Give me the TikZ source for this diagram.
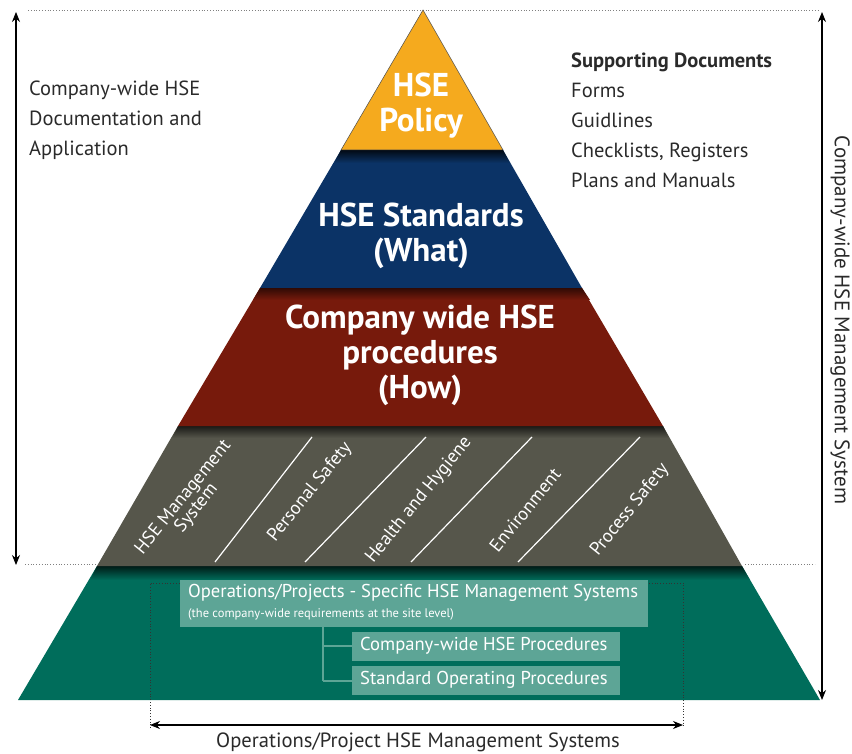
\documentclass[tikz,border=0pt]{standalone}
\usepackage{fontspec}
\setmainfont{PT Sans}
\usetikzlibrary{arrows.meta}
\definecolor{hyellow}{HTML}{F5AA1E}
\definecolor{hblue}{HTML}{0B3366}
\definecolor{hred}{HTML}{771A0C}
\definecolor{hgray}{HTML}{56564B}
\definecolor{hgreen}{HTML}{006D5B}
\definecolor{hbox}{HTML}{5DA596}
\definecolor{htext}{HTML}{2A2A2A}
\begin{document}
\begin{tikzpicture}[x=1pt,y=-1pt,
  title/.style={text=white,font=\bfseries\fontsize{33}{35}\selectfont,align=center},
  side/.style={text=htext,font=\fontsize{20.5}{30}\selectfont,align=left,anchor=north west,inner sep=0pt},
  pill/.style={text=white,font=\fontsize{18.5}{20}\selectfont,align=center,rotate=51},
  sepline/.style={white,line width=1.2pt},
  gbox/.style={fill=hbox,draw=none},
  gtext/.style={text=white,font=\fontsize{18.6}{20}\selectfont,anchor=west,inner sep=0pt},
  dotline/.style={gray,dotted,line width=0.8pt},
  dimarrow/.style={{Stealth[length=10pt,width=8pt]}-{Stealth[length=10pt,width=8pt]},line width=1.1pt,black},
  conn/.style={hbox,line width=1.5pt}]
\useasboundingbox (0,0) rectangle (852,754);
% guide dotted lines
\draw[dotline] (28,10) -- (820,10);
\draw[dotline] (25,564) -- (97,564);
\draw[dotline] (745,564) -- (815,564);
% layers
\fill[hgreen] (97,566) -- (742,566) -- (820,700) -- (18,700) -- cycle;
\shade[top color=black!75!hgreen,bottom color=hgreen] (97,566) -- (742,566) -- (750,580) -- (90,580) -- cycle;
\fill[hgray] (178,426) -- (663,426) -- (742,566) -- (97,566) -- cycle;
\shade[top color=black!70!hgray,bottom color=hgray] (178,426) -- (663,426) -- (669,438) -- (172,438) -- cycle;
\fill[hred] (260,288) -- (582,288) -- (663,426) -- (178,426) -- cycle;
\shade[top color=black!60!hred,bottom color=hred] (260,288) -- (582,288) -- (590,300) -- (253,300) -- cycle;
\fill[hblue] (341,150) -- (503,150) -- (582,288) -- (260,288) -- cycle;
\shade[top color=black!80!hblue,bottom color=hblue] (341,150) -- (503,150) -- (510,163) -- (334,163) -- cycle;
\filldraw[fill=hyellow,draw=black!70,line width=0.5pt] (423,10) -- (341,150) -- (503,150) -- cycle;
% titles
\node[title] (policy) at (421,106) {HSE\\Policy};
\node[title] (standards) at (421,236) {HSE Standards\\(What)};
\node[title] (procs) at (420,355) {Company wide HSE\\procedures\\(How)};
% gray separators
\draw[sepline] (215,562) -- (312,437);
\draw[sepline] (305,562) -- (426,437);
\draw[sepline] (411,562) -- (532,437);
\draw[sepline] (518,562) -- (640,437);
\node[pill] (hsems) at (190,503) {HSE Management\\[-3pt]System};
\node[pill] (pers) at (310,492) {Personal Safety};
\node[pill] (health) at (419,500) {Health and Hygiene};
\node[pill] (env) at (525,510) {Environment};
\node[pill] (proc) at (630,510) {Process Safety};
% green inner dotted frame
\draw[dotline,black!80] (150,728) -- (150,583) -- (683,583) -- (683,728);
\draw[conn] (323,627) -- (323,681);
\fill[gbox] (180,580) rectangle (648,627);
\node[gtext] (ops) at (188,593) {Operations/Projects - Specific HSE Management Systems};
\node[gtext,font=\fontsize{12.5}{14}\selectfont] (opsub) at (188,614) {(the company-wide requirements at the site level)};
\fill[gbox] (352,632) rectangle (620,661);
\fill[gbox] (352,666) rectangle (620,695);
\node[gtext] (cwp) at (360,646) {Company-wide HSE Procedures};
\node[gtext] (sop) at (360,680) {Standard Operating Procedures};
\coordinate (b1) at (323,646);
\coordinate (b2) at (323,681);
\coordinate (e1) at (352,646);
\coordinate (e2) at (352,681);
\draw[conn] (b1) -- (e1);
\draw[conn] (b2) -- (e2);
% bottom dimension
\coordinate (bl) at (150,725);
\coordinate (br) at (683,725);
\draw[dimarrow] (bl) -- (br);
\node[text=htext,font=\fontsize{20.6}{22}\selectfont] (bottomlbl) at (418,742) {Operations/Project HSE Management Systems};
% left dimension
\coordinate (lt) at (16,12);
\coordinate (lb) at (16,565);
\draw[dimarrow] (lt) -- (lb);
\node[side] (lefttxt) at (29,81) {Company-wide HSE\\Documentation and\\Application};
% right dimension
\coordinate (rt) at (822,12);
\coordinate (rb) at (822,700);
\draw[dimarrow] (rt) -- (rb);
\node[text=htext,font=\fontsize{21}{22}\selectfont,rotate=-90] (righttxt) at (840,320) {Company-wide HSE Management System};
\node[side] (supp) at (571,53) {\textbf{Supporting Documents}\\Forms\\Guidlines\\Checklists, Registers\\Plans and Manuals};
\end{tikzpicture}
\end{document}
